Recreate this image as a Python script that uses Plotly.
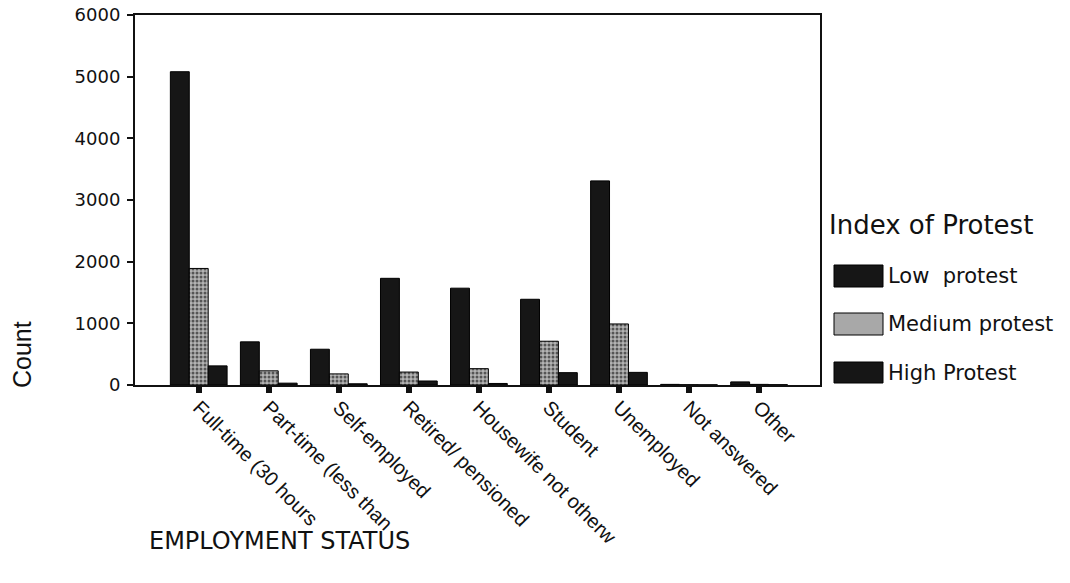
import plotly.graph_objects as go

categories = ["Full-time (30 hours", "Part-time (less than", "Self-employed",
              "Retired/ pensioned", "Housewife not otherw", "Student",
              "Unemployed", "Not answered", "Other"]
low_protest = [5080, 700, 580, 1730, 1570, 1390, 3310, 10, 50]
medium_protest = [1890, 230, 180, 210, 265, 710, 990, 5, 10]
high_protest = [310, 30, 20, 65, 25, 200, 205, 3, 5]
series_names = ["Low  protest", "Medium protest", "High Protest"]
y_ticks = [0, 1000, 2000, 3000, 4000, 5000, 6000]

DARK = "#161616"
NARROW = "Liberation Sans Narrow, Arial Narrow, Liberation Sans"
WIDE = "DejaVu Sans, Liberation Sans"

fig = go.Figure()
fig.add_trace(go.Bar(x=categories, y=low_protest, name=series_names[0],
                     marker=dict(color=DARK, line=dict(color="#000", width=1))))
fig.add_trace(go.Bar(x=categories, y=medium_protest, name=series_names[1],
                     marker=dict(color="#a8a8a8", line=dict(color="#000", width=1),
                                 pattern=dict(shape=".", fgcolor="#555555", bgcolor="#b4b4b4",
                                              size=4, solidity=0.45, fillmode="replace"))))
fig.add_trace(go.Bar(x=categories, y=high_protest, name=series_names[2],
                     marker=dict(color=DARK, line=dict(color="#000", width=1))))

# plot box at x 135..820, y 15..385 (body margin removed in the page)
L, T, R, B = 135, 15, 250, 198
TOP_PX, BOT_PX = T, 583 - B
fig.update_layout(
    width=1070, height=583,
    margin=dict(l=L, r=R, t=T, b=B, autoexpand=False),
    paper_bgcolor="white", plot_bgcolor="white",
    barmode="group", bargap=0.19, bargroupgap=0,
    showlegend=False, hovermode=False,
    font=dict(family=WIDE, color="#111"),
)
fig.update_xaxes(
    type="category", range=[-0.91, 8.87], automargin=False,
    showline=True, linecolor="#111", linewidth=2, mirror=True,
    ticks="outside", ticklen=6, tickwidth=6, tickcolor="#111",
    tickangle=45, ticklabelstandoff=-5,
    tickfont=dict(family=NARROW, size=20, color="#111"),
    showgrid=False,
)
fig.update_yaxes(
    range=[0, 6000], tickvals=y_ticks, automargin=False,
    ticklabeloverflow="allow",
    showline=True, linecolor="#111", linewidth=2, mirror=True,
    ticks="outside", ticklen=6, tickwidth=2, tickcolor="#111",
    ticklabelstandoff=3,
    tickfont=dict(family=WIDE, size=18, color="#111"),
    showgrid=False, zeroline=False,
)

def px_x(px):
    return (px - L) / (1070 - L - R)

def px_y(py):
    return (BOT_PX - py) / (BOT_PX - TOP_PX)

# axis titles
fig.add_annotation(text="Count", xref="paper", yref="paper", x=px_x(22), y=px_y(355),
                   xanchor="center", yanchor="middle", showarrow=False, textangle=-90,
                   font=dict(family=NARROW, size=25, color="#111"))
fig.add_annotation(text="EMPLOYMENT STATUS", xref="paper", yref="paper",
                   x=px_x(147), y=px_y(541), xanchor="left", yanchor="middle",
                   showarrow=False, font=dict(family=WIDE, size=24, color="#111"))

# custom legend
fig.add_annotation(text="Index of Protest", xref="paper", yref="paper",
                   x=px_x(827), y=px_y(225), xanchor="left", yanchor="middle", showarrow=False,
                   font=dict(family=WIDE, size=26, color="#111"))
swatches = [(265, 287, DARK), (313, 335, "#a8a8a8"), (362, 383, DARK)]
for name, (y0, y1, col) in zip(series_names, swatches):
    fig.add_shape(type="rect", xref="paper", yref="paper",
                  x0=px_x(834), x1=px_x(883), y0=px_y(y1), y1=px_y(y0),
                  fillcolor=col, line=dict(color="#000", width=1))
    fig.add_annotation(text=name, xref="paper", yref="paper",
                       x=px_x(886), y=px_y((y0 + y1) / 2), xanchor="left", yanchor="middle",
                       showarrow=False, font=dict(family=WIDE, size=21, color="#111"))

fig.write_html("out.html", config={"displayModeBar": False},
               post_script="document.body.style.margin='0px';")
